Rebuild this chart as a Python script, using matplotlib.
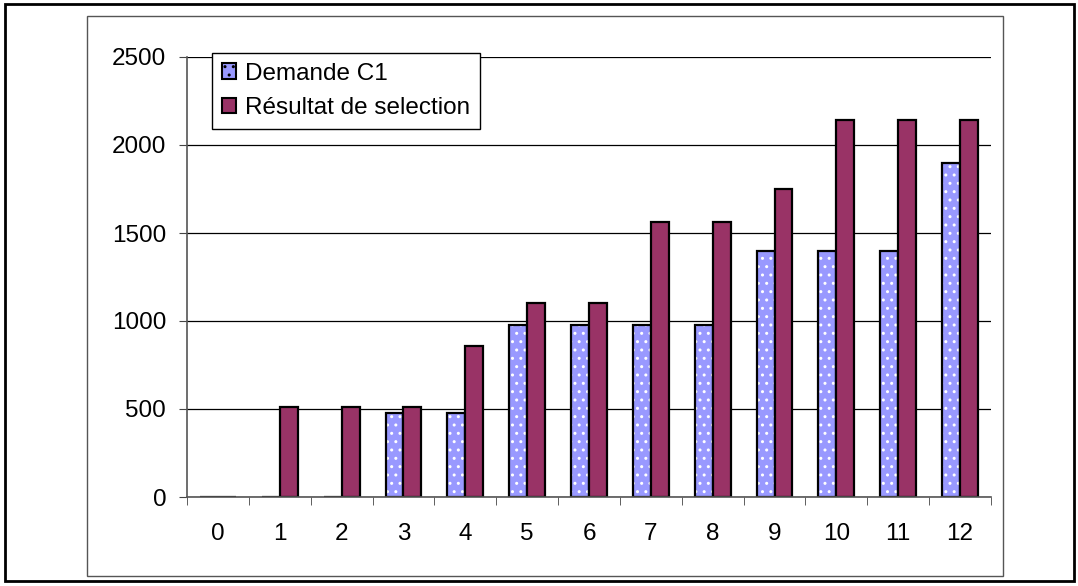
import matplotlib.pyplot as plt
from matplotlib.patches import Rectangle, Patch
import numpy as np

plt.rcParams['font.family'] = ['Liberation Sans', 'DejaVu Sans']
plt.rcParams['hatch.linewidth'] = 1.0

W, H = 1078, 586

categories = [str(i) for i in range(13)]
demande = [0, 0, 0, 480, 480, 975, 975, 975, 975, 1400, 1400, 1400, 1900]
resultat = [0, 510, 510, 510, 860, 1100, 1100, 1560, 1560, 1750, 2140, 2140, 2140]
labels = ["Demande C1", "Résultat de selection"]

BLUE = "#9999FF"
PLUM = "#993366"
FS = 17.5

fig = plt.figure(figsize=(W / 100, H / 100), dpi=100)
fig.patch.set_facecolor("white")

# outer and chart-area borders (pixel coords)
def frame(x0, y0, x1, y1, color, lw):
    fig.patches.append(Rectangle((x0 / W, 1 - y1 / H), (x1 - x0) / W, (y1 - y0) / H,
                                 transform=fig.transFigure, fill=False,
                                 edgecolor=color, linewidth=lw, zorder=0))

frame(5, 4, 1074, 581, "black", 2.0)
frame(87, 16, 1003, 576, "#555555", 1.0)

ax = fig.add_axes([187 / W, 1 - 497 / H, (991 - 187) / W, (497 - 57) / H])
x = np.arange(len(categories))
bw = 0.29

ax.bar(x - bw / 2, demande, bw, color=BLUE, hatch="..", edgecolor="white", linewidth=0, zorder=2)
ax.bar(x - bw / 2, demande, bw, fill=False, edgecolor="black", linewidth=1.6, zorder=3)
ax.bar(x + bw / 2, resultat, bw, color=PLUM, edgecolor="black", linewidth=1.6, zorder=3)

ax.set_xlim(-0.5, len(categories) - 0.5)
ax.set_ylim(0, 2500)
ax.set_yticks(range(0, 2501, 500))
ax.set_xticks(x)
ax.set_xticklabels(categories)
ax.set_xticks(np.arange(-0.5, len(categories), 1), minor=True)
ax.tick_params(axis="x", which="major", length=0, pad=19, labelsize=FS)
ax.tick_params(axis="x", which="minor", length=6, direction="out", color="#444444")
ax.tick_params(axis="y", length=6, direction="out", pad=9, labelsize=FS, color="#444444")
ax.grid(axis="y", color="black", linewidth=0.9, zorder=1)
ax.set_axisbelow(True)
for s in ["top", "right"]:
    ax.spines[s].set_visible(False)
for s in ["left", "bottom"]:
    ax.spines[s].set_color("#555555")
    ax.spines[s].set_linewidth(1.2)
    ax.spines[s].set_zorder(4)

# legend
handles = [Patch(facecolor=BLUE, hatch="..", edgecolor="black", linewidth=1.5),
           Patch(facecolor=PLUM, edgecolor="black", linewidth=1.5)]
leg = fig.legend(handles, labels, loc="upper left",
                 bbox_to_anchor=(212 / W, 1 - 53 / H), borderaxespad=0,
                 fontsize=FS, handlelength=0.6, handleheight=0.6, handletextpad=0.35,
                 labelspacing=0.5, borderpad=0.4,
                 fancybox=False, framealpha=1, edgecolor="black")
leg.get_frame().set_linewidth(1.0)

fig.savefig("out.png", dpi=100)
